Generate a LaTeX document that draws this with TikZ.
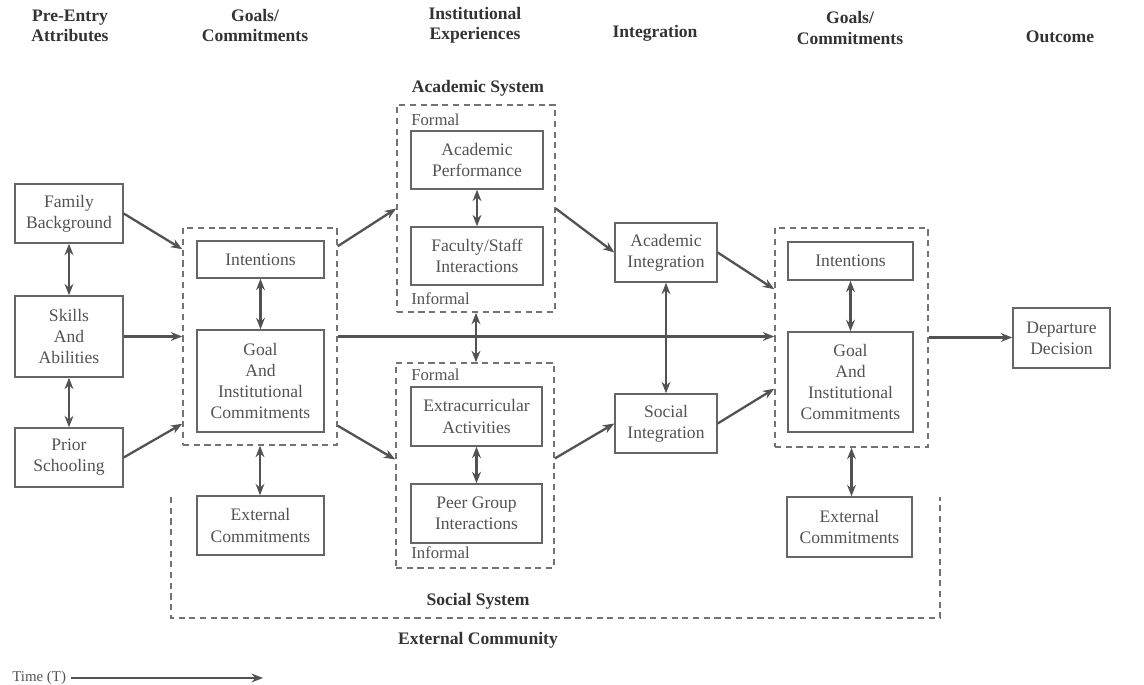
\documentclass[tikz,border=0pt]{standalone}
\usepackage{fontspec}
\setmainfont{Liberation Serif}
\usetikzlibrary{arrows.meta,calc}

\begin{document}
\begin{tikzpicture}[x=0.02cm,y=0.02cm,>={Stealth[length=6.5pt,width=5pt]},
  every node/.style={font=\fontsize{10}{12}\selectfont,text=black!68},
  box/.style={draw=black!60,line width=0.8pt,align=center,inner sep=2pt},
  group/.style={draw=black!55,line width=0.9pt,dash pattern=on 3.5pt off 2.6pt},
  head/.style={font=\fontsize{10}{11.5}\selectfont\bfseries,text=black!80,align=center},
  tag/.style={anchor=west,inner sep=0pt,font=\fontsize{9.5}{11}\selectfont},
  link/.style={->,draw=black!68,line width=1.3pt},
  both/.style={<->,draw=black!68,line width=1.3pt}]
  \useasboundingbox (0,0) rectangle (1144,-685);

  \node[head] (hpre) at (70,-25.5) {Pre-Entry\\Attributes};
  \node[head] (hgoal1) at (255,-25.5) {Goals/\\Commitments};
  \node[head] (hinst) at (475,-25.5) {Institutional\\Experiences};
  \node[head] (hint) at (655,-33) {Integration};
  \node[head] (hgoal2) at (850,-28) {Goals/\\Commitments};
  \node[head] (hout) at (1060,-37) {Outcome};

  \node[box,minimum width=2.16cm,minimum height=1.18cm] (fam) at (69,-213.5) {Family\\Background};
  \node[box,minimum width=2.16cm,minimum height=1.62cm] (skills) at (69,-336.5) {Skills\\And\\Abilities};
  \node[box,minimum width=2.16cm,minimum height=1.18cm] (prior) at (69,-457.5) {Prior\\Schooling};

  \node[group,minimum width=3.08cm,minimum height=4.34cm,inner sep=0pt] (gc1) at (260,-336.5) {};
  \node[box,minimum width=2.54cm,minimum height=0.74cm] (int1) at (260.5,-259.5) {Intentions};
  \node[box,minimum width=2.54cm,minimum height=2.04cm] (goal1) at (260.5,-381) {Goal\\And\\Institutional\\Commitments};
  \node[box,minimum width=2.54cm,minimum height=1.18cm] (ext1) at (260.5,-525.5) {External\\Commitments};

  \node[head] (acname) at (478,-88) {Academic System};
  \node[group,minimum width=3.16cm,minimum height=4.14cm,inner sep=0pt] (acsys) at (476,-208.5) {};
  \node[tag] (fo1) at (411,-120) {Formal};
  \node[box,minimum width=2.64cm,minimum height=1.16cm] (perf) at (477,-160) {Academic\\Performance};
  \node[box,minimum width=2.64cm,minimum height=1.16cm] (fac) at (477,-256) {Faculty/Staff\\Interactions};
  \node[tag] (in1) at (411,-299) {Informal};

  \node[group,minimum width=3.16cm,minimum height=4.10cm,inner sep=0pt] (socsys) at (475,-465.5) {};
  \node[tag] (fo2) at (411,-375) {Formal};
  \node[box,minimum width=2.62cm,minimum height=1.18cm] (extra) at (476.5,-416.5) {Extracurricular\\Activities};
  \node[box,minimum width=2.62cm,minimum height=1.18cm] (peer) at (476.5,-513.5) {Peer Group\\Interactions};
  \node[tag] (in2) at (411,-553) {Informal};
  \node[head] (socname) at (478,-601) {Social System};

  \node[box,minimum width=2.04cm,minimum height=1.18cm] (acint) at (666,-252.5) {Academic\\Integration};
  \node[box,minimum width=2.04cm,minimum height=1.18cm] (socint) at (666,-423.5) {Social\\Integration};

  \node[group,minimum width=3.06cm,minimum height=4.38cm,inner sep=0pt] (gc2) at (851.5,-337.5) {};
  \node[box,minimum width=2.50cm,minimum height=0.76cm] (int2) at (850.5,-261) {Intentions};
  \node[box,minimum width=2.50cm,minimum height=2.00cm] (goal2) at (850.5,-382) {Goal\\And\\Institutional\\Commitments};
  \node[box,minimum width=2.50cm,minimum height=1.20cm] (ext2) at (849.5,-527) {External\\Commitments};

  \node[box,minimum width=1.94cm,minimum height=1.20cm] (dep) at (1061.5,-338) {Departure\\Decision};

  \draw[group] (171,-497) |- (940,-618) -- (940,-497);
  \node[head] (extname) at (478,-640) {External Community};

  \node[anchor=west,inner sep=0pt,outer sep=3pt,font=\fontsize{8.5}{10}\selectfont] (time) at (7,-678) {Time (T)};
  \coordinate (timeend) at (263,-678);
  \draw[link] (time.east) -- (timeend);

  \draw[link] (fam.east) -- ($(gc1.north west)+(0,-22)$);
  \draw[link] (skills.east) -- (skills.east -| gc1.west);
  \draw[link] (prior.east) -- ($(gc1.south west)+(0,22)$);
  \draw[link] ($(gc1.north east)+(0,-19)$) -- (acsys.west);
  \draw[link] ($(gc1.south east)+(0,20)$) -- ($(socsys.west)+(0,6)$);
  \draw[link] (acsys.east) -- (acint.west);
  \draw[link] ($(socsys.east)+(0,7)$) -- (socint.west);
  \draw[link] (acint.east) -- ($(gc2.north west)+(0,-62)$);
  \draw[link] (socint.east) -- ($(gc2.south west)+(0,59)$);
  \draw[link] (gc1.east) -- (gc1.east -| gc2.west);
  \draw[link] (gc2.east) -- (gc2.east -| dep.west);

  \draw[both] (fam) -- (skills);
  \draw[both] (skills) -- (prior);
  \draw[both] (int1) -- (goal1);
  \draw[both] (gc1.south) -- (gc1.south |- ext1.north);
  \draw[both] (perf) -- (fac);
  \draw[both] (acsys.south) -- (acsys.south |- socsys.north);
  \draw[both] (extra) -- (peer);
  \draw[both] (acint) -- (socint);
  \draw[both] (int2) -- (goal2);
  \draw[both] (gc2.south) -- (gc2.south |- ext2.north);
\end{tikzpicture}
\end{document}
